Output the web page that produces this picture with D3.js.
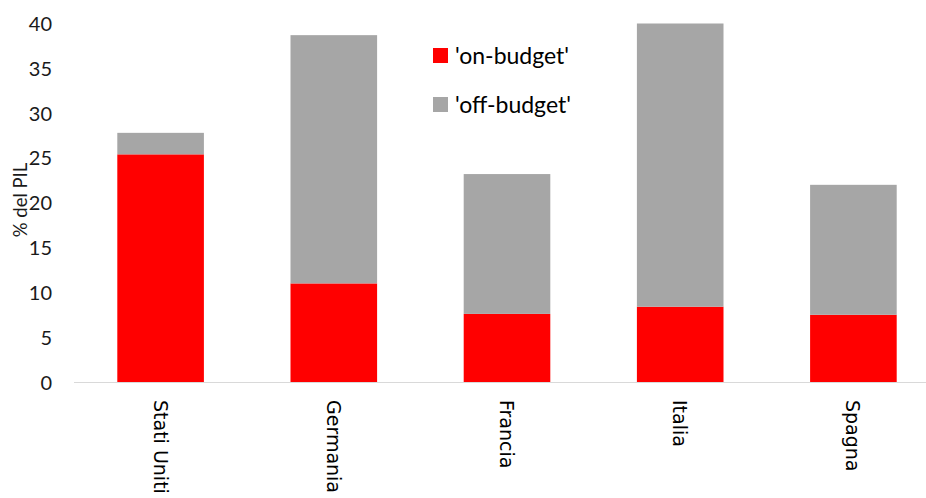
<!DOCTYPE html>
<html>
<head>
<meta charset="utf-8">
<script src="https://cdn.jsdelivr.net/npm/d3@7"></script>
<style>
  html, body { margin: 0; padding: 0; background: #fff; }
  svg { display: block; }
</style>
</head>
<body>
<svg id="chart" width="926" height="498"></svg>
<script>
const categories = ["Stati Uniti", "Germania", "Francia", "Italia", "Spagna"];
const onBudget  = [25.4, 11.0, 7.6, 8.4, 7.5];
const offBudget = [2.4, 27.7, 15.6, 31.6, 14.5];
const seriesNames = ["'on-budget'", "'off-budget'"];
const seriesColors = ["#ff0000", "#a6a6a6"];
const yTicks = [0, 5, 10, 15, 20, 25, 30, 35, 40];

const svg = d3.select("#chart");
const W = 926, H = 498;
const plot = { left: 74, right: 940, top: 23.5, bottom: 382 };

const x = d3.scaleBand().domain(categories).range([plot.left, plot.right]).paddingInner(0.5).paddingOuter(0.25);
const y = d3.scaleLinear().domain([0, 40]).range([plot.bottom, plot.top]);

const rows = categories.map((c, i) => ({ cat: c, on: onBudget[i], off: offBudget[i] }));
const stack = d3.stack().keys(["on", "off"])(rows);

const g = svg.append("g");
stack.forEach((layer, li) => {
  g.selectAll(null).data(layer).enter().append("rect")
    .attr("x", d => x(d.data.cat))
    .attr("width", x.bandwidth())
    .attr("y", d => y(d[1]))
    .attr("height", d => y(d[0]) - y(d[1]))
    .attr("fill", seriesColors[li]);
});

// x axis line
svg.append("line")
  .attr("x1", plot.left).attr("x2", W)
  .attr("y1", plot.bottom + 0.5).attr("y2", plot.bottom + 0.5)
  .attr("stroke", "#d9d9d9").attr("stroke-width", 1);

// y axis labels
const yAxis = d3.axisLeft(y).tickValues(yTicks).tickSize(0).tickPadding(0);
const ya = svg.append("g").attr("transform", "translate(52,0)").call(yAxis);
ya.select(".domain").remove();
ya.selectAll("text")
  .attr("font-family", "Lato, 'Open Sans', sans-serif")
  .attr("font-size", 20)
  .attr("fill", "#1a1a1a")
  .attr("dy", "0.35em");

// y title
svg.append("text")
  .attr("transform", `translate(27,200) rotate(-90)`)
  .attr("text-anchor", "middle")
  .attr("font-family", "Lato, 'Open Sans', sans-serif")
  .attr("font-size", 18.5)
  .attr("fill", "#1a1a1a")
  .text("% del PIL");

// x category labels, rotated
svg.append("g").selectAll("text").data(categories).enter().append("text")
  .attr("transform", d => `translate(${x(d) + x.bandwidth() / 2},400) rotate(90)`)
  .attr("text-anchor", "start")
  .attr("dominant-baseline", "central")
  .attr("font-family", "'DejaVu Sans', sans-serif")
  .attr("font-size", 19)
  .attr("fill", "#000")
  .text(d => d);

// legend
const legend = svg.append("g");
seriesNames.forEach((name, i) => {
  const ly = 48 + i * 49;
  legend.append("rect").attr("x", 433).attr("y", ly).attr("width", 15).attr("height", 15).attr("fill", seriesColors[i]);
  legend.append("text")
    .attr("x", 455).attr("y", ly + 6.5)
    .attr("dominant-baseline", "central")
    .attr("font-family", "Lato, 'Open Sans', sans-serif")
    .attr("font-size", 23)
    .attr("fill", "#000")
    .text(name);
});
</script>
</body>
</html>
